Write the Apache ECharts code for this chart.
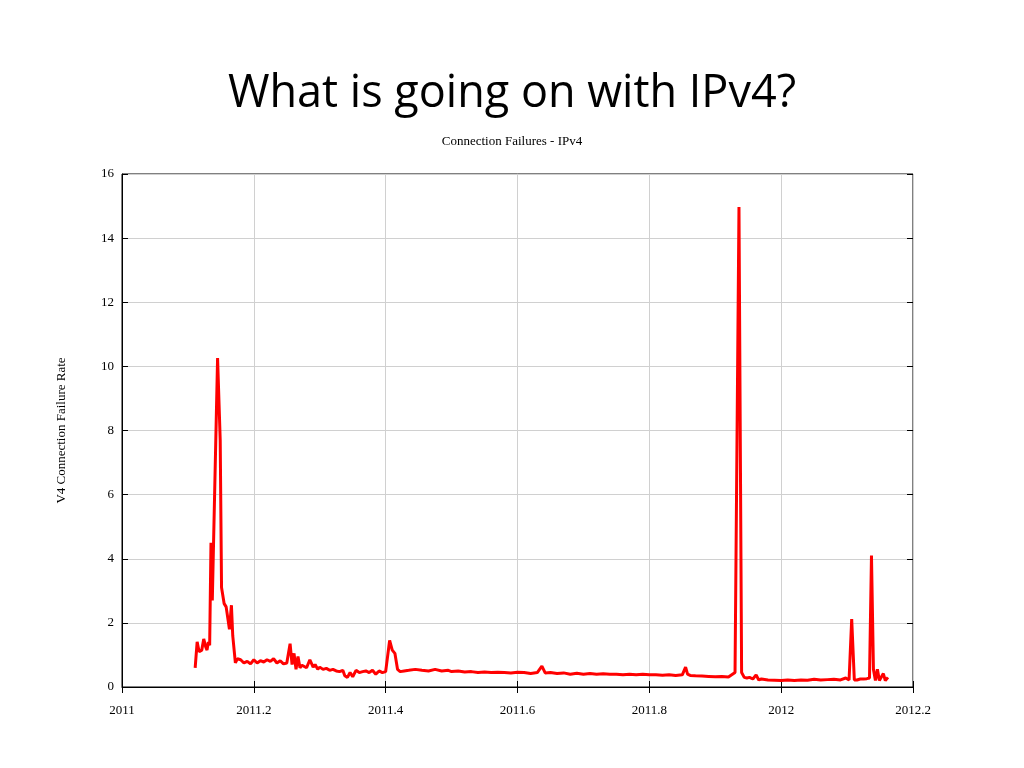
<!DOCTYPE html>
<html><head><meta charset="utf-8">
<script src="https://cdn.jsdelivr.net/npm/echarts@6/dist/echarts.min.js"></script>
<style>html,body{margin:0;background:#fff}#c{width:1024px;height:768px}</style>
</head><body><div id="c"></div>
<script>
const titleText = "What is going on with IPv4?";
const subtitleText = "Connection Failures - IPv4";
const yAxisName = "V4 Connection Failure Rate";
const xTicks = [2011, 2011.2, 2011.4, 2011.6, 2011.8, 2012, 2012.2];
const yTicks = [0, 2, 4, 6, 8, 10, 12, 14, 16];
const times = [
 2011.111,2011.114,2011.117,2011.121,2011.124,2011.127,2011.129,2011.131,2011.133,2011.135,2011.137,2011.140,2011.145,2011.149,2011.151,2011.155,2011.158,2011.163,2011.166,2011.168,2011.172,2011.175,2011.180,2011.185,2011.190,2011.195,2011.200,2011.205,2011.210,2011.215,2011.220,2011.225,2011.230,2011.235,2011.240,2011.245,2011.250,2011.255,2011.258,2011.261,2011.264,2011.267,2011.270,2011.273,2011.276,2011.280,2011.285,2011.290,2011.293,2011.297,2011.300,2011.305,2011.310,2011.315,2011.320,2011.325,2011.330,2011.335,2011.338,2011.342,2011.346,2011.350,2011.355,2011.360,2011.365,2011.370,2011.375,2011.380,2011.385,2011.390,2011.395,2011.400,2011.403,2011.406,2011.410,2011.414,2011.418,2011.422,2011.428,2011.435,2011.445,2011.455,2011.465,2011.475,2011.485,2011.495,2011.500,2011.510,2011.520,2011.530,2011.540,2011.550,2011.560,2011.570,2011.580,2011.590,2011.600,2011.610,2011.620,2011.630,2011.637,2011.642,2011.650,2011.660,2011.670,2011.680,2011.690,2011.700,2011.710,2011.720,2011.730,2011.740,2011.750,2011.760,2011.770,2011.780,2011.790,2011.800,2011.810,2011.820,2011.830,2011.840,2011.850,2011.855,2011.858,2011.862,2011.870,2011.880,2011.890,2011.900,2011.910,2011.920,2011.930,2011.936,2011.940,2011.944,2011.948,2011.952,2011.957,2011.962,2011.966,2011.970,2011.980,2011.990,2012.000,2012.010,2012.020,2012.030,2012.040,2012.050,2012.060,2012.070,2012.080,2012.090,2012.098,2012.103,2012.107,2012.111,2012.115,2012.120,2012.125,2012.130,2012.134,2012.137,2012.140,2012.143,2012.146,2012.149,2012.152,2012.155,2012.158,2012.162
];
const rates = [
 0.60,1.41,1.10,1.15,1.50,1.25,1.15,1.40,1.30,4.50,2.70,2.75,10.26,7.70,3.10,2.60,2.50,1.80,2.55,1.60,0.75,0.88,0.85,0.75,0.80,0.72,0.85,0.75,0.82,0.78,0.85,0.80,0.88,0.75,0.82,0.72,0.75,1.35,0.70,1.05,0.55,0.95,0.60,0.68,0.65,0.60,0.85,0.62,0.70,0.55,0.62,0.55,0.58,0.52,0.55,0.50,0.48,0.52,0.35,0.30,0.45,0.32,0.52,0.45,0.48,0.50,0.45,0.52,0.40,0.50,0.45,0.48,0.50,1.45,1.15,1.05,0.55,0.48,0.50,0.52,0.55,0.52,0.50,0.55,0.50,0.52,0.48,0.50,0.47,0.48,0.45,0.47,0.45,0.46,0.45,0.44,0.46,0.45,0.42,0.45,0.65,0.44,0.45,0.42,0.44,0.40,0.43,0.40,0.42,0.40,0.41,0.40,0.40,0.38,0.40,0.38,0.40,0.38,0.38,0.37,0.38,0.36,0.38,0.62,0.40,0.36,0.35,0.34,0.33,0.32,0.33,0.31,0.45,14.97,0.45,0.30,0.28,0.30,0.25,0.38,0.22,0.25,0.22,0.21,0.20,0.22,0.20,0.22,0.21,0.24,0.22,0.23,0.24,0.22,0.28,0.22,2.12,0.22,0.22,0.25,0.25,0.26,0.28,4.10,0.55,0.20,0.55,0.20,0.25,0.42,0.20,0.30
];
const data = times.map((t,i)=>[t,rates[i]]);
const serif = "Liberation Serif";
const chart = echarts.init(document.getElementById('c'));
chart.setOption({
  animation:false,
  title:[
    {text:titleText,left:'center',top:67,textStyle:{fontFamily:'Open Sans',fontWeight:'normal',fontSize:45,color:'#000'}},
    {text:subtitleText,left:'center',top:130,textStyle:{fontFamily:serif,fontWeight:'normal',fontSize:13,color:'#000'}}
  ],
  grid:{left:122,right:111,top:174,bottom:81,show:true,borderColor:'#000',borderWidth:1},
  xAxis:[
    {type:'value',min:2011,max:2012.2,interval:0.2,
     axisLine:{lineStyle:{color:'#000'}},axisTick:{inside:true,length:6,lineStyle:{color:'#000'}},
     axisLabel:{fontFamily:serif,fontSize:13,color:'#000',margin:17,formatter:v=>String(+v.toFixed(1))},
     splitLine:{show:true,lineStyle:{color:'#d0d0d0'}}},
    {type:'value',position:'top',min:2011,max:2012.2,interval:0.2,
     axisLine:{show:false},axisTick:{inside:true,length:6,lineStyle:{color:'#000'}},
     axisLabel:{show:false},splitLine:{show:false}}
  ],
  yAxis:[
    {type:'value',min:0,max:16,interval:2,name:yAxisName,nameLocation:'middle',nameGap:54,
     nameTextStyle:{fontFamily:serif,fontSize:13,color:'#000'},
     axisLine:{show:true,lineStyle:{color:'#000'}},axisTick:{show:true,inside:true,length:6,lineStyle:{color:'#000'}},
     axisLabel:{fontFamily:serif,fontSize:13,color:'#000',margin:8},
     splitLine:{show:true,lineStyle:{color:'#d0d0d0'}}},
    {type:'value',position:'right',min:0,max:16,interval:2,
     axisLine:{show:false},axisTick:{show:true,inside:true,length:6,lineStyle:{color:'#000'}},
     axisLabel:{show:false},splitLine:{show:false}}
  ],
  series:[{type:'line',data:data,showSymbol:false,lineStyle:{color:'#ff0000',width:3},itemStyle:{color:'#ff0000'}}]
});
</script></body></html>
